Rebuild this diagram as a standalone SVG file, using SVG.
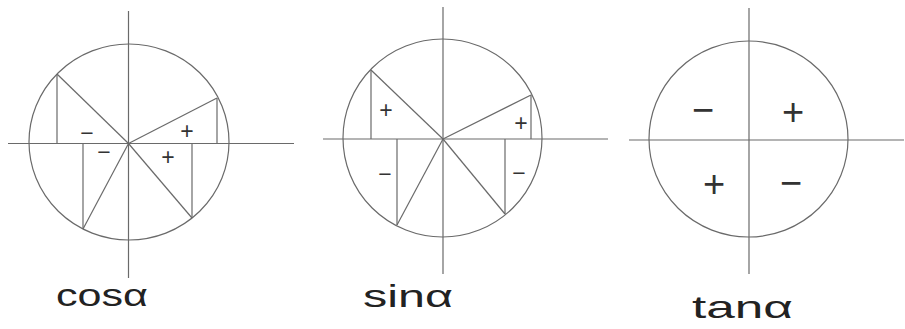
<svg xmlns="http://www.w3.org/2000/svg" width="905" height="329" viewBox="0 0 905 329">
<style>
.ax{stroke:#6a6a6a;stroke-width:1.2;fill:none}
.ci{stroke:#6a6a6a;stroke-width:1.2;fill:none}
.ln{stroke:#6a6a6a;stroke-width:1.2;fill:none}
.sg{font-family:"Liberation Sans",Arial,sans-serif;fill:#333;text-anchor:middle}
.s{font-size:23px}
.b{font-size:38px}
.lb{font-family:"Liberation Sans",Arial,sans-serif;font-size:32px;fill:#222}
</style>
<rect width="905" height="329" fill="#fff"/>
<g id="cos">
<line class="ax" x1="128.5" y1="11" x2="128.5" y2="278"/>
<line class="ax" x1="8" y1="143.5" x2="294" y2="143.5"/>
<ellipse class="ci" cx="129" cy="142" rx="100" ry="98"/>
<g class="ln">
<line x1="128.5" y1="143.5" x2="57" y2="74"/>
<line x1="57" y1="74" x2="57" y2="143.5"/>
<line x1="128.5" y1="143.5" x2="217" y2="98"/>
<line x1="217" y1="98" x2="217" y2="143.5"/>
<line x1="128.5" y1="143.5" x2="83" y2="229"/>
<line x1="83" y1="143.5" x2="83" y2="229"/>
<line x1="128.5" y1="143.5" x2="192" y2="218"/>
<line x1="192" y1="143.5" x2="192" y2="218"/>
</g>
<text class="sg s" x="87" y="141">−</text>
<text class="sg s" x="104" y="160">−</text>
<text class="sg s" x="187" y="139">+</text>
<text class="sg s" x="168" y="165">+</text>
<text class="lb" x="56" y="306" textLength="92" lengthAdjust="spacingAndGlyphs">cosα</text>
</g>
<g id="sin">
<line class="ax" x1="443" y1="7" x2="443" y2="274"/>
<line class="ax" x1="323" y1="139" x2="608" y2="139"/>
<ellipse class="ci" cx="442.5" cy="138" rx="99.5" ry="99"/>
<g class="ln">
<line x1="443" y1="139" x2="371" y2="70"/>
<line x1="371" y1="70" x2="371" y2="139"/>
<line x1="443" y1="139" x2="531" y2="95"/>
<line x1="531" y1="95" x2="531" y2="139"/>
<line x1="443" y1="139" x2="397" y2="225"/>
<line x1="397" y1="139" x2="397" y2="225"/>
<line x1="443" y1="139" x2="505" y2="214"/>
<line x1="505" y1="139" x2="505" y2="214"/>
</g>
<text class="sg s" x="386" y="118">+</text>
<text class="sg s" x="521" y="131">+</text>
<text class="sg s" x="385" y="182">−</text>
<text class="sg s" x="519" y="181">−</text>
<text class="lb" x="363" y="307" textLength="90" lengthAdjust="spacingAndGlyphs">sinα</text>
</g>
<g id="tan">
<line class="ax" x1="749" y1="8" x2="749" y2="274"/>
<line class="ax" x1="629" y1="140" x2="904" y2="140"/>
<ellipse class="ci" cx="748.5" cy="139" rx="99.5" ry="98"/>
<text class="sg b" x="703" y="123">−</text>
<text class="sg b" x="793" y="125">+</text>
<text class="sg b" x="714" y="197">+</text>
<text class="sg b" x="791" y="196">−</text>
<text class="lb" x="692" y="318" textLength="101" lengthAdjust="spacingAndGlyphs">tanα</text>
</g>
</svg>
